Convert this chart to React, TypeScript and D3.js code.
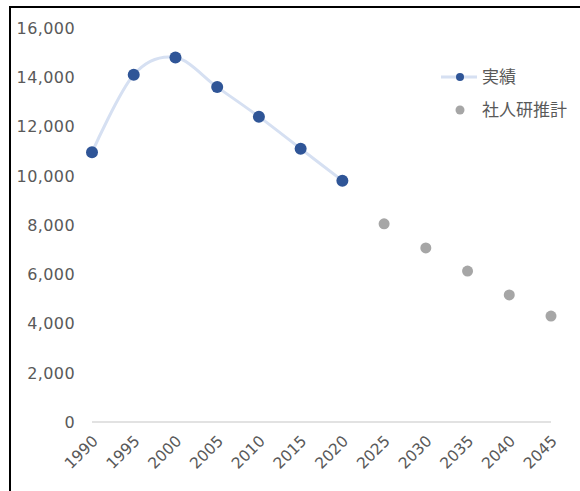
import React from "react";
import * as d3 from "d3";

const years = ["1990","1995","2000","2005","2010","2015","2020","2025","2030","2035","2040","2045"];
const actualYears = ["1990","1995","2000","2005","2010","2015","2020"];
const actualValues = [10950, 14100, 14800, 13600, 12400, 11100, 9800];
const projYears = ["2025","2030","2035","2040","2045"];
const projValues = [8050, 7070, 6130, 5160, 4300];
const yTicks = [0, 2000, 4000, 6000, 8000, 10000, 12000, 14000, 16000];
const legendLabels = ["実績", "社人研推計"];

const W = 580, H = 491;
const font = "'DejaVu Sans', sans-serif";
const textColor = "#595959";

export default function App() {
  const x = d3.scalePoint<string>().domain(years).range([92, 551]);
  const y = d3.scaleLinear().domain([0, 16000]).range([422, 28]);
  const line = d3.line<number>()
    .x((_, i) => x(actualYears[i])!)
    .y((d) => y(d))
    .curve(d3.curveCardinal.tension(0));
  const fmt = d3.format(",");
  return (
    <svg width={W} height={H} style={{ position: "absolute", left: 0, top: 0, background: "#fff" }}>
      <rect x={0} y={0} width={W} height={H} fill="#fff" />
      <line x1={9} y1={7} x2={W} y2={7} stroke="#000" strokeWidth={2} />
      <line x1={10} y1={6} x2={10} y2={H} stroke="#000" strokeWidth={2} />
      {yTicks.map((t) => (
        <text key={t} x={75} y={y(t)} dy="0.36em" textAnchor="end" fontFamily={font} fontSize={16} fill={textColor} letterSpacing={0.4}>
          {fmt(t)}
        </text>
      ))}
      <line x1={x("1990")} x2={x("2045")} y1={y(0)} y2={y(0)} stroke="#d9d9d9" strokeWidth={1.5} />
      {years.map((yr) => (
        <text key={yr} transform={`translate(${x(yr)! + 3},${y(0) + 16}) rotate(-45)`} textAnchor="end" dy="0.36em" fontFamily={font} fontSize={15.5} fill={textColor}>
          {yr}
        </text>
      ))}
      <path d={line(actualValues)!} fill="none" stroke="#d6e0f2" strokeWidth={3} />
      {actualValues.map((v, i) => (
        <circle key={i} cx={x(actualYears[i])} cy={y(v)} r={6} fill="#2f5597" />
      ))}
      {projValues.map((v, i) => (
        <circle key={i} cx={x(projYears[i])} cy={y(v)} r={5.5} fill="#a6a6a6" />
      ))}
      <g>
        <line x1={441} x2={477} y1={77} y2={77} stroke="#d6e0f2" strokeWidth={3} />
        <circle cx={460} cy={77} r={4} fill="#2f5597" />
        <text x={482} y={77} dy="0.36em" fontFamily="'Noto Sans CJK JP', sans-serif" fontSize={17} fill={textColor}>{legendLabels[0]}</text>
        <circle cx={460} cy={110} r={4.5} fill="#a6a6a6" />
        <text x={482} y={110} dy="0.36em" fontFamily="'Noto Sans CJK JP', sans-serif" fontSize={17} fill={textColor}>{legendLabels[1]}</text>
      </g>
    </svg>
  );
}
